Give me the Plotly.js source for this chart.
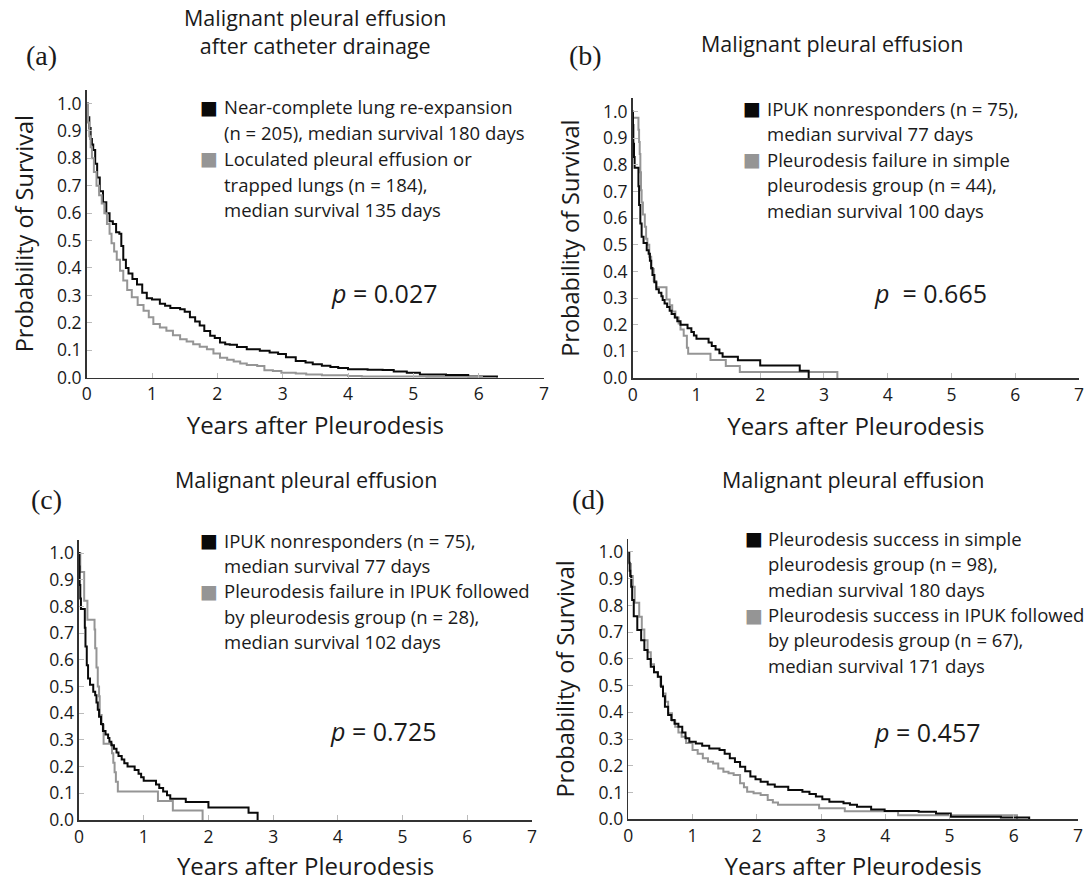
<!DOCTYPE html>
<html>
<head>
<meta charset="utf-8">
<script src="https://cdn.plot.ly/plotly-3.0.1.min.js"></script>
<style>html,body{margin:0;padding:0;background:#fff;}#chart{width:1085px;height:882px;}</style>
</head>
<body>
<div id="chart"></div>
<script>
// ---------------- DATA ----------------
// Panel (a): catheter drainage
const tA_near = [0,0.02,0.04,0.06,0.08,0.1,0.13,0.16,0.2,0.25,0.3,0.35,0.4,0.45,0.5,0.53,0.56,0.6,0.64,0.7,0.77,0.85,0.92,1.0,1.12,1.2,1.28,1.43,1.5,1.58,1.66,1.73,1.8,1.89,1.96,2.04,2.12,2.19,2.3,2.45,2.65,2.8,2.93,3.05,3.2,3.35,3.46,3.6,3.73,3.85,4.0,4.3,4.53,4.7,4.9,5.1,5.5,5.84,6.07,6.28];
const sA_near = [1.0,0.95,0.91,0.87,0.85,0.83,0.78,0.73,0.68,0.64,0.6,0.57,0.56,0.53,0.525,0.48,0.43,0.4,0.38,0.36,0.34,0.31,0.29,0.285,0.27,0.262,0.254,0.25,0.24,0.22,0.205,0.19,0.17,0.153,0.145,0.128,0.122,0.12,0.112,0.104,0.098,0.092,0.086,0.075,0.061,0.055,0.049,0.044,0.039,0.035,0.031,0.029,0.028,0.023,0.018,0.012,0.01,0.004,0.004,0];
const tA_loc = [0,0.02,0.04,0.06,0.08,0.11,0.15,0.19,0.23,0.27,0.31,0.35,0.38,0.42,0.46,0.51,0.56,0.62,0.69,0.78,0.87,0.95,1.02,1.12,1.22,1.32,1.43,1.53,1.63,1.73,1.84,1.94,2.04,2.15,2.25,2.35,2.45,2.61,2.72,2.85,2.98,3.2,3.36,3.6,4.0,4.21,5.2,6.05];
const sA_loc = [1.0,0.93,0.88,0.84,0.8,0.75,0.7,0.665,0.635,0.6,0.56,0.525,0.49,0.46,0.43,0.39,0.354,0.32,0.293,0.265,0.244,0.22,0.196,0.183,0.171,0.155,0.14,0.132,0.122,0.113,0.104,0.088,0.073,0.065,0.059,0.052,0.046,0.043,0.027,0.024,0.018,0.015,0.012,0.009,0.006,0.004,0.003,0];

// IPUK nonresponders (n = 75) - used in panels (b) and (c)
const tIPUK_non = [0,0.005,0.01,0.02,0.03,0.09,0.1,0.12,0.14,0.17,0.22,0.25,0.27,0.29,0.31,0.34,0.37,0.41,0.45,0.47,0.5,0.54,0.58,0.61,0.66,0.7,0.75,0.86,0.92,0.96,1.0,1.19,1.24,1.3,1.36,1.41,1.65,2.0,2.62,2.76];
const sIPUK_non = [1.0,0.95,0.88,0.83,0.79,0.72,0.65,0.58,0.53,0.507,0.48,0.467,0.44,0.413,0.387,0.36,0.333,0.32,0.307,0.293,0.28,0.267,0.253,0.24,0.227,0.213,0.2,0.187,0.173,0.16,0.147,0.133,0.12,0.107,0.093,0.08,0.067,0.047,0.027,0];

// Panel (b): pleurodesis failure in simple pleurodesis group (n = 44)
const tB_fail = [0,0.005,0.09,0.1,0.11,0.12,0.13,0.14,0.16,0.19,0.21,0.23,0.26,0.29,0.33,0.37,0.53,0.58,0.62,0.67,0.72,0.75,0.8,0.85,0.87,1.22,1.46,1.68,3.21];
const sB_fail = [1.0,0.977,0.932,0.886,0.841,0.773,0.705,0.659,0.614,0.568,0.523,0.5,0.455,0.409,0.364,0.341,0.295,0.273,0.25,0.227,0.205,0.182,0.159,0.114,0.091,0.068,0.045,0.023,0];

// Panel (c): pleurodesis failure in IPUK followed by pleurodesis group (n = 28)
const tC_fail = [0,0.02,0.08,0.13,0.24,0.25,0.27,0.29,0.31,0.32,0.35,0.38,0.51,0.53,0.55,0.57,0.6,1.22,1.45,1.91];
const sC_fail = [1.0,0.929,0.821,0.75,0.714,0.643,0.571,0.5,0.464,0.393,0.357,0.286,0.25,0.214,0.179,0.143,0.107,0.071,0.036,0];

// Panel (d): pleurodesis success
const tD_simple = [0,0.01,0.02,0.03,0.045,0.06,0.085,0.14,0.2,0.25,0.3,0.35,0.4,0.46,0.51,0.54,0.57,0.62,0.67,0.72,0.78,0.84,0.89,0.95,1.05,1.15,1.26,1.42,1.5,1.58,1.66,1.74,1.82,1.9,1.98,2.06,2.17,2.28,2.49,2.71,2.82,2.92,3.02,3.13,3.35,3.45,3.56,3.78,3.99,4.52,4.79,5.02,5.8,6.24];
const sD_simple = [1.0,0.96,0.93,0.91,0.87,0.82,0.76,0.708,0.67,0.633,0.6,0.571,0.55,0.533,0.496,0.46,0.421,0.39,0.371,0.357,0.346,0.325,0.303,0.29,0.284,0.275,0.265,0.259,0.245,0.228,0.214,0.197,0.18,0.16,0.15,0.14,0.13,0.122,0.11,0.103,0.095,0.085,0.075,0.066,0.06,0.054,0.047,0.037,0.031,0.028,0.022,0.01,0.007,0];
const tD_ipuk = [0,0.02,0.04,0.07,0.1,0.17,0.21,0.25,0.3,0.35,0.4,0.46,0.5,0.54,0.58,0.62,0.68,0.73,0.78,0.83,0.9,1.0,1.08,1.16,1.24,1.32,1.4,1.48,1.56,1.64,1.74,1.8,1.85,1.95,2.06,2.17,2.25,2.33,2.97,3.37,4.2,6.05];
const sD_ipuk = [1.0,0.955,0.91,0.87,0.81,0.758,0.71,0.67,0.625,0.58,0.55,0.533,0.5,0.471,0.44,0.397,0.37,0.346,0.325,0.309,0.285,0.259,0.245,0.228,0.215,0.209,0.19,0.178,0.172,0.166,0.135,0.12,0.103,0.097,0.091,0.072,0.063,0.054,0.041,0.03,0.015,0];

// Text
const panelLetters = ["(a)","(b)","(c)","(d)"];
const panelTitles = ["Malignant pleural effusion<br>after catheter drainage","Malignant pleural effusion","Malignant pleural effusion","Malignant pleural effusion"];
const pValues = ["<i>p</i> = 0.027","<i>p</i>  = 0.665","<i>p</i> = 0.725","<i>p</i> = 0.457"];
const legendA = ["Near-complete lung re-expansion","(n = 205), median survival 180 days","Loculated pleural effusion or","trapped lungs (n = 184),","median survival 135 days"];
const legendB = ["IPUK nonresponders (n = 75),","median survival 77 days","Pleurodesis failure in simple","pleurodesis group (n = 44),","median survival 100 days"];
const legendC = ["IPUK nonresponders (n = 75),","median survival 77 days","Pleurodesis failure in IPUK followed","by pleurodesis group (n = 28),","median survival 102 days"];
const legendD = ["Pleurodesis success in simple","pleurodesis group (n = 98),","median survival 180 days","Pleurodesis success in IPUK followed","by pleurodesis group (n = 67),","median survival 171 days"];
const xTitle = "Years after Pleurodesis";
const yTitle = "Probability of Survival";

// ---------------- LAYOUT ----------------
const W = 1085, H = 882;
const BLACK = '#0a0a0a', GRAY = '#959595', TXT = '#1a1a1a';
const FONT = 'Open Sans, Noto Sans, sans-serif';
const px = v => v / W;
const py = v => 1 - v / H;

function line(x, y, color, xa, ya, name) {
  return {x: x, y: y, type: 'scatter', mode: 'lines', name: name, xaxis: xa, yaxis: ya,
          line: {shape: 'hv', color: color, width: 2}, cliponaxis: false, showlegend: false, hoverinfo: 'skip'};
}
const data = [
  line(tA_near, sA_near, BLACK, 'x', 'y', 'Near-complete'),
  line(tA_loc, sA_loc, GRAY, 'x', 'y', 'Loculated'),
  line(tB_fail, sB_fail, GRAY, 'x2', 'y2', 'Failure simple'),
  line(tIPUK_non, sIPUK_non, BLACK, 'x2', 'y2', 'IPUK nonresponders'),
  line(tC_fail, sC_fail, GRAY, 'x3', 'y3', 'Failure IPUK'),
  line(tIPUK_non, sIPUK_non, BLACK, 'x3', 'y3', 'IPUK nonresponders'),
  line(tD_ipuk, sD_ipuk, GRAY, 'x4', 'y4', 'Success IPUK'),
  line(tD_simple, sD_simple, BLACK, 'x4', 'y4', 'Success simple')
];

// pixel boxes: [x0(px at x=0), x1(px at x=7), yBottom(px at 0), yTop(px at 1.05)]
const boxes = [
  [86.7, 544, 377.7, 89.7],
  [632.7, 1079, 378, 98.4],
  [79, 532, 820, 539.7],
  [628.3, 1078, 819.3, 538.6]
];

function xaxis(b, i) {
  return {domain: [px(b[0]), px(b[1])], range: [0, 7], anchor: i === 0 ? 'y' : 'y' + (i + 1),
    showline: true, linecolor: '#333', linewidth: 1.6, ticks: 'inside', ticklen: 5, tickcolor: '#bbb', tickwidth: 1,
    dtick: 1, tick0: 0, showgrid: false, zeroline: false, fixedrange: true,
    tickfont: {family: FONT, size: 17.5, color: TXT},
    title: {text: xTitle, font: {family: FONT, size: 24, color: TXT}, standoff: 13}};
}
function yaxis(b, i) {
  const ax = {domain: [py(b[2]), py(b[3])], range: [0, 1.05], anchor: i === 0 ? 'x' : 'x' + (i + 1),
    showline: true, linecolor: '#333', linewidth: 1.6, ticks: 'inside', ticklen: 5, tickcolor: '#bbb', tickwidth: 1,
    dtick: 0.1, tick0: 0, tickformat: '.1f', showgrid: false, zeroline: false, fixedrange: true,
    tickfont: {family: FONT, size: 17.5, color: TXT}};
  if (i !== 2) ax.title = {text: yTitle, font: {family: FONT, size: 23.5, color: TXT}, standoff: 17};
  return ax;
}

const layout = {
  width: W, height: H, margin: {l: 0, r: 0, t: 0, b: 0},
  paper_bgcolor: '#fff', plot_bgcolor: 'rgba(0,0,0,0)', showlegend: false,
  font: {family: FONT, color: TXT},
  annotations: []
};
boxes.forEach((b, i) => {
  const s = i === 0 ? '' : String(i + 1);
  layout['xaxis' + s] = xaxis(b, i);
  layout['yaxis' + s] = yaxis(b, i);
});

function ann(text, X, Y, opts) {
  layout.annotations.push(Object.assign({text: text, x: px(X), y: py(Y), xref: 'paper', yref: 'paper',
    showarrow: false, xanchor: 'left', yanchor: 'middle', align: 'left',
    font: {family: FONT, size: 17, color: TXT}}, opts || {}));
}

// panel titles
const titlePos = [[315, 31], [832, 43], [306, 479], [853, 479]];
panelTitles.forEach((t, i) => ann(t, titlePos[i][0], titlePos[i][1], {xanchor: 'center', align: 'center', font: {family: FONT, size: 21.5, color: TXT}}));
// panel letters
const letterPos = [[41, 55], [585, 55], [46, 499], [588, 499]];
panelLetters.forEach((t, i) => ann(t, letterPos[i][0], letterPos[i][1], {xanchor: 'center', font: {family: 'Liberation Serif, Times New Roman, serif', size: 28, color: TXT}}));
// p-values
const pPos = [[328.5, 293], [872, 293], [328, 731], [872, 732]];
pValues.forEach((t, i) => ann(t, pPos[i][0], pPos[i][1], {font: {family: FONT, size: 25, color: TXT}}));

// legends: [lines, squareX, textX, firstLineY, spacing, blackLine, grayLine]
const legends = [
  [legendA, 209, 221.5, 106.7, 25.8, 0, 2],
  [legendB, 752, 765, 108.3, 25.5, 0, 2],
  [legendC, 209, 221.5, 540, 25.4, 0, 2],
  [legendD, 754, 765.5, 538.3, 25.4, 0, 3]
];
legends.forEach(L => {
  const [lines, sqX, txX, y0, dy, bl, gl] = L;
  lines.forEach((t, k) => ann(t, txX, y0 + k * dy, {font: {family: FONT, size: 18.5, color: TXT}}));
  ann('■', sqX, y0 + bl * dy, {xanchor: 'center', font: {family: 'DejaVu Sans', size: 19, color: BLACK}});
  ann('■', sqX, y0 + gl * dy, {xanchor: 'center', font: {family: 'DejaVu Sans', size: 19, color: GRAY}});
});

Plotly.newPlot('chart', data, layout, {displayModeBar: false, staticPlot: true});
</script>
</body>
</html>
